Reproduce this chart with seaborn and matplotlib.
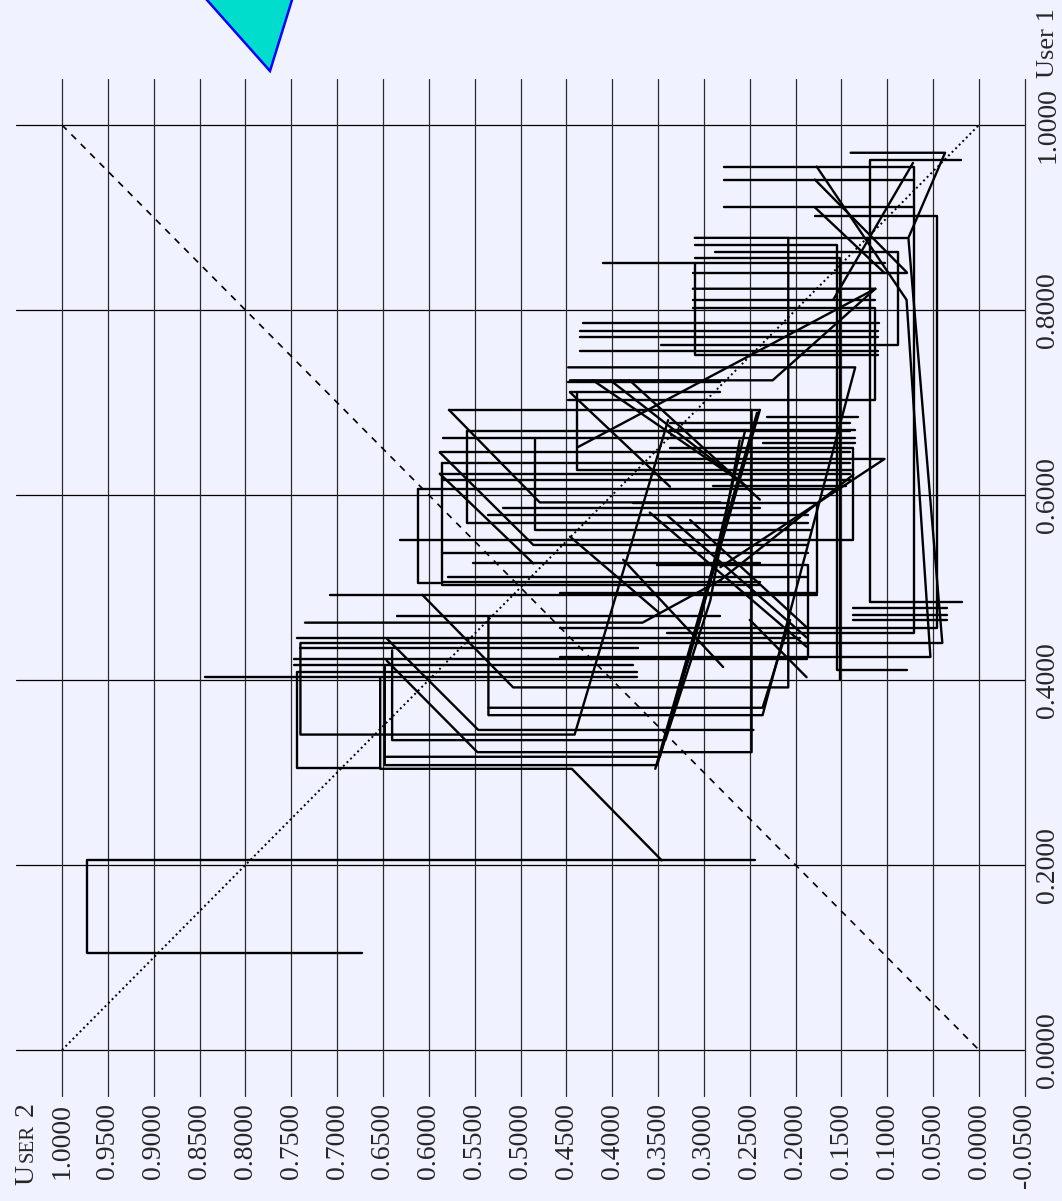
import matplotlib
matplotlib.use("Agg")
import matplotlib.pyplot as plt
import seaborn as sns
import numpy as np
import pandas as pd
from matplotlib.patches import Polygon

sns.set_theme(style="white")
plt.rcParams["font.family"] = ["Liberation Serif", "DejaVu Serif"]

BG = "#f0f3ff"

# axis ticks
user1_ticks = [0.0, 0.2, 0.4, 0.6, 0.8, 1.0]
user2_ticks = [-0.05, 0.0, 0.05, 0.1, 0.15, 0.2, 0.25, 0.3, 0.35, 0.4, 0.45,
               0.5, 0.55, 0.6, 0.65, 0.7, 0.75, 0.8, 0.85, 0.9, 0.95, 1.0]

# number of points in each trace
path_len = [4, 2, 4, 4, 2, 2, 5, 5, 4, 2,
            8, 3, 2, 3, 2, 5, 3, 2, 5, 3,
            2, 4, 2, 2, 2, 4, 4, 2, 4, 3,
            4, 2, 2, 3, 2, 2, 2, 2, 2, 3,
            2, 4, 2, 4, 2, 2, 2, 2, 2, 2,
            3, 2, 2, 3, 2, 2, 2, 2, 3, 2,
            3, 2, 4, 2, 3, 3, 2, 3, 2, 2,
            2, 2, 2, 3, 4, 2, 2, 2, 2, 3,
            2, 2, 2, 2, 2, 2, 2, 2, 2, 2,
            2, 2, 2]

user2 = [
    0.673, 0.973, 0.973, 0.244,
    0.373, 0.844,
    0.653, 0.653, 0.444, 0.346,
    0.373, 0.744, 0.744, 0.653,
    0.377, 0.747,
    0.188, 0.747,
    0.648, 0.648, 0.351, 0.304, 0.255,
    0.640, 0.640, 0.342, 0.293, 0.261,
    0.646, 0.547, 0.248, 0.248,
    0.372, 0.740,
    0.140, 0.037, 0.077, 0.040, 0.740, 0.740, 0.441, 0.339,
    0.646, 0.546, 0.246,
    0.195, 0.744,
    0.735, 0.367, 0.282,
    0.635, 0.282,
    0.535, 0.535, 0.236, 0.135, 0.448,
    0.535, 0.236, 0.206,
    0.708, 0.177,
    0.607, 0.508, 0.208, 0.208, 0.310,
    0.648, 0.348, 0.239,
    0.353, 0.242,
    0.019, 0.119, 0.119, 0.020,
    0.035, 0.137,
    0.035, 0.137,
    0.035, 0.137,
    0.457, 0.046, 0.046, 0.179,
    0.340, 0.071, 0.071, 0.278,
    0.457, 0.053,
    0.288, 0.088, 0.088, 0.347,
    0.310, 0.152, 0.152,
    0.310, 0.155, 0.155, 0.079,
    0.278, 0.071,
    0.278, 0.071,
    0.177, 0.079, 0.053,
    0.179, 0.079,
    0.179, 0.103,
    0.072, 0.159,
    0.208, 0.079,
    0.410, 0.103,
    0.310, 0.310, 0.110,
    0.312, 0.079,
    0.312, 0.113, 0.225, 0.446,
    0.312, 0.113,
    0.312, 0.113, 0.113, 0.448,
    0.432, 0.109,
    0.435, 0.110,
    0.435, 0.110,
    0.435, 0.110,
    0.282, 0.448,
    0.282, 0.446,
    0.438, 0.438, 0.137,
    0.437, 0.113,
    0.578, 0.239,
    0.578, 0.479, 0.282,
    0.231, 0.132,
    0.337, 0.141,
    0.337, 0.135,
    0.558, 0.141,
    0.558, 0.558, 0.187,
    0.585, 0.135,
    0.484, 0.484, 0.184,
    0.236, 0.135,
    0.337, 0.137, 0.137, 0.631,
    0.588, 0.141,
    0.588, 0.486, 0.187,
    0.348, 0.103, 0.282,
    0.586, 0.141,
    0.586, 0.586, 0.239,
    0.588, 0.141,
    0.588, 0.486,
    0.586, 0.141,
    0.290, 0.145,
    0.612, 0.152,
    0.612, 0.612, 0.588,
    0.377, 0.177, 0.177, 0.457,
    0.519, 0.239,
    0.535, 0.187,
    0.586, 0.187,
    0.552, 0.239,
    0.351, 0.187, 0.187,
    0.579, 0.187,
    0.586, 0.239,
    0.446, 0.337,
    0.402, 0.253,
    0.381, 0.239,
    0.359, 0.188,
    0.340, 0.188,
    0.315, 0.188,
    0.250, 0.188,
    0.282, 0.137,
    0.421, 0.258,
    0.446, 0.348,
    0.388, 0.279,
]

user1 = [
    0.105, 0.105, 0.205, 0.205,
    0.403, 0.403,
    0.403, 0.304, 0.304, 0.205,
    0.409, 0.409, 0.305, 0.305,
    0.416, 0.416,
    0.423, 0.423,
    0.415, 0.308, 0.308, 0.465, 0.670,
    0.432, 0.335, 0.335, 0.486, 0.659,
    0.421, 0.322, 0.322, 0.692,
    0.435, 0.435,
    0.970, 0.970, 0.878, 0.440, 0.440, 0.341, 0.341, 0.681,
    0.445, 0.346, 0.346,
    0.445, 0.445,
    0.462, 0.462, 0.508,
    0.469, 0.469,
    0.469, 0.362, 0.362, 0.738, 0.738,
    0.370, 0.370, 0.465,
    0.492, 0.492,
    0.492, 0.392, 0.392, 0.878, 0.878,
    0.317, 0.317, 0.692,
    0.304, 0.689,
    0.484, 0.484, 0.962, 0.962,
    0.478, 0.478,
    0.470, 0.470,
    0.465, 0.465,
    0.456, 0.456, 0.902, 0.902,
    0.451, 0.451, 0.955, 0.955,
    0.425, 0.425,
    0.863, 0.863, 0.762, 0.762,
    0.856, 0.856, 0.400,
    0.870, 0.870, 0.411, 0.411,
    0.941, 0.941,
    0.911, 0.911,
    0.955, 0.811, 0.425,
    0.941, 0.841,
    0.911, 0.840,
    0.959, 0.811,
    0.878, 0.878,
    0.851, 0.851,
    0.851, 0.751, 0.751,
    0.840, 0.840,
    0.823, 0.823, 0.724, 0.724,
    0.811, 0.811,
    0.802, 0.802, 0.703, 0.703,
    0.786, 0.786,
    0.777, 0.777,
    0.771, 0.771,
    0.756, 0.756,
    0.722, 0.722,
    0.711, 0.711,
    0.711, 0.627, 0.627,
    0.652, 0.823,
    0.692, 0.692,
    0.692, 0.592, 0.592,
    0.684, 0.684,
    0.678, 0.678,
    0.670, 0.670,
    0.669, 0.669,
    0.669, 0.570, 0.570,
    0.662, 0.662,
    0.662, 0.562, 0.562,
    0.656, 0.656,
    0.651, 0.651, 0.551, 0.551,
    0.646, 0.646,
    0.646, 0.546, 0.546,
    0.639, 0.639, 0.522,
    0.635, 0.635,
    0.635, 0.503, 0.503,
    0.623, 0.623,
    0.623, 0.526,
    0.616, 0.616,
    0.610, 0.610,
    0.606, 0.606,
    0.606, 0.505, 0.505,
    0.591, 0.591, 0.494, 0.494,
    0.586, 0.586,
    0.578, 0.578,
    0.537, 0.537,
    0.526, 0.526,
    0.524, 0.524, 0.425,
    0.511, 0.511,
    0.506, 0.506,
    0.711, 0.609,
    0.724, 0.609,
    0.724, 0.595,
    0.581, 0.436,
    0.578, 0.446,
    0.573, 0.457,
    0.465, 0.403,
    0.508, 0.622,
    0.724, 0.613,
    0.555, 0.472,
    0.530, 0.414,
]

assert len(user1) == len(user2) == sum(path_len)

traces = pd.DataFrame({
    "path": np.repeat(np.arange(len(path_len)), path_len),
    "user2": user2,
    "user1": user1,
})

fig = plt.figure(figsize=(10.62, 12.01), dpi=100, facecolor=BG)
ax = fig.add_axes([0, 0, 1, 1])
ax.set_facecolor(BG)

# grid
for v in user1_ticks:
    ax.plot([1.05, -0.05], [v, v], color="black", lw=0.9, zorder=1)
for v in user2_ticks:
    ax.plot([v, v], [-0.05, 1.05], color="#2a2a2a", lw=0.9, zorder=1)

# reference diagonals
ax.plot([1, 0], [1, 0], color="black", lw=1.2, ls=(0, (4, 4)), zorder=2)
ax.plot([1, 0], [0, 1], color="black", lw=1.4, ls=(0, (1, 1.6)), zorder=2)

sns.lineplot(data=traces, x="user2", y="user1", units="path", estimator=None,
             sort=False, color="black", lw=1.7, ax=ax, zorder=3)

ax.set_xlim(1.06761, -0.09051)
ax.set_ylim(-0.16324, 1.13514)
ax.axis("off")

# tick labels
for v in user2_ticks:
    lab = f"{v:.4f}" if abs(v) > 1e-9 else "0.0000"
    ax.text(v, -0.0573, lab, rotation=90, ha="center", va="top", fontsize=20)
for v in user1_ticks:
    ax.text(-0.0752, v, f"{v:.4f}", rotation=90, ha="center", va="center", fontsize=20)
ax.text(-0.0752, 1.0508, "User 1", rotation=90, ha="center", va="bottom", fontsize=19)

# small-caps axis title
ax.text(1.0316, -0.1459, "U", rotation=90, rotation_mode="anchor",
        ha="left", va="baseline", fontsize=20)
ax.text(1.0316, -0.1211, "SER", rotation=90, rotation_mode="anchor",
        ha="left", va="baseline", fontsize=15)
ax.text(1.0316, -0.0714, "2", rotation=90, rotation_mode="anchor",
        ha="left", va="baseline", fontsize=20)

# marker
tri = Polygon([(0.7732, 1.0584), (0.8806, 1.1784), (0.7357, 1.1784)],
              closed=True, facecolor="#00ddcc", edgecolor="#0000ff", lw=1.8, zorder=4)
ax.add_patch(tri)

fig.savefig("out.png", dpi=100, facecolor=BG)
